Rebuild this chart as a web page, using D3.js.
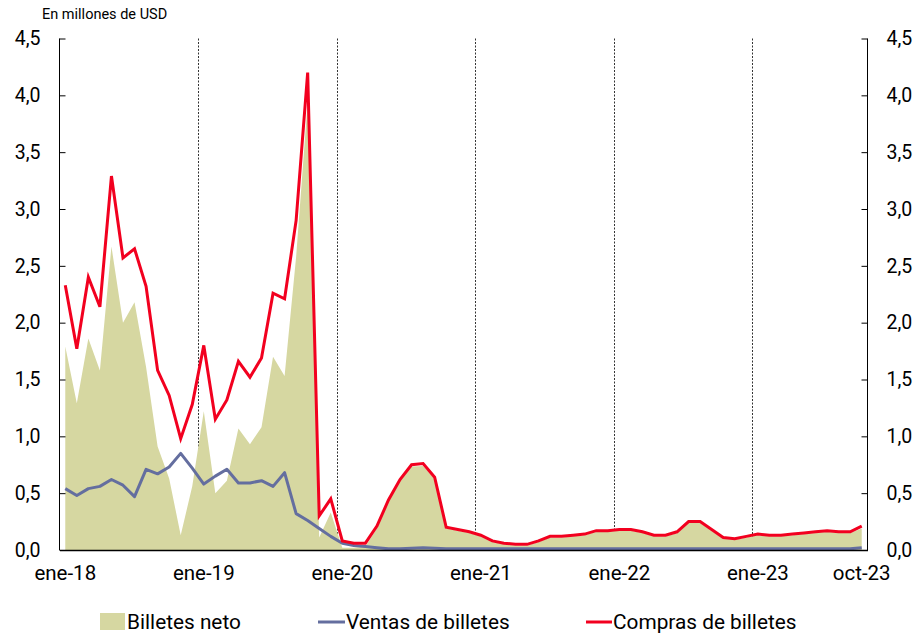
<!DOCTYPE html>
<html><head><meta charset="utf-8">
<script src="https://cdn.jsdelivr.net/npm/d3@7"></script>
<style>
body{margin:0;background:#fff;}
text{font-family:Roboto, "Noto Sans", sans-serif;}
</style></head>
<body><svg id="c" width="920" height="636"></svg>
<script>
const monthsEs = ["ene","feb","mar","abr","may","jun","jul","ago","sep","oct","nov","dic"];
const categories = [];
for (let y = 18; y <= 23; y++) for (let m = 0; m < 12; m++) { if (y === 23 && m > 9) break; categories.push(monthsEs[m] + "-" + y); }

const compras = [2.33,1.77,2.40,2.14,3.29,2.57,2.65,2.32,1.58,1.36,0.98,1.28,
  1.80,1.15,1.32,1.66,1.52,1.69,2.26,2.21,2.90,4.20,0.30,0.45,
  0.08,0.06,0.06,0.21,0.44,0.62,0.75,0.76,0.64,0.20,0.18,0.16,
  0.13,0.08,0.06,0.05,0.05,0.08,0.12,0.12,0.13,0.14,0.17,0.17,
  0.18,0.18,0.16,0.13,0.13,0.16,0.25,0.25,0.18,0.11,0.10,0.12,
  0.14,0.13,0.13,0.14,0.15,0.16,0.17,0.16,0.16,0.21];
const ventas = [0.54,0.48,0.54,0.56,0.62,0.57,0.47,0.71,0.67,0.73,0.85,0.72,
  0.58,0.65,0.71,0.59,0.59,0.61,0.56,0.68,0.32,0.26,0.19,0.12,
  0.06,0.04,0.03,0.02,0.01,0.01,0.015,0.02,0.015,0.012,0.01,0.01,
  0.01,0.01,0.01,0.01,0.01,0.01,0.01,0.01,0.01,0.01,0.01,0.01,
  0.01,0.01,0.01,0.01,0.012,0.012,0.012,0.01,0.01,0.01,0.01,0.01,
  0.01,0.01,0.01,0.01,0.01,0.01,0.01,0.01,0.01,0.02];
const neto = [1.79,1.29,1.86,1.58,2.67,2.00,2.18,1.61,0.91,0.63,0.13,0.56,
  1.22,0.50,0.61,1.07,0.93,1.08,1.70,1.53,2.58,3.94,0.11,0.33,
  0.02,0.02,0.03,0.19,0.43,0.61,0.735,0.74,0.625,0.19,0.17,0.15,
  0.12,0.07,0.05,0.04,0.04,0.07,0.11,0.11,0.12,0.13,0.16,0.16,
  0.17,0.17,0.15,0.12,0.118,0.148,0.238,0.24,0.17,0.10,0.09,0.11,
  0.13,0.12,0.12,0.13,0.14,0.15,0.16,0.15,0.15,0.19];
const yTicks = [0,0.5,1,1.5,2,2.5,3,3.5,4,4.5];
const xLabels = ["ene-18","ene-19","ene-20","ene-21","ene-22","ene-23","oct-23"];
const yearStarts = ["ene-19","ene-20","ene-21","ene-22","ene-23"];
const seriesNames = ["Billetes neto","Ventas de billetes","Compras de billetes"];
const colors = {neto:"#d6d7a1", ventas:"#646e9f", compras:"#f2001f"};

const L = 59.5, R = 867.5, T = 38.5, B = 550;
const svg = d3.select("#c");
const x = d3.scaleBand().domain(categories).range([L, R]).padding(0);
const cx = c => x(c) + x.bandwidth()/2;
const y = d3.scaleLinear().domain([0,4.5]).range([B, T]);

// vertical dotted lines at year starts
svg.append("g").selectAll("line").data(yearStarts).join("line")
  .attr("x1", d => Math.round(x(d))+0.5).attr("x2", d => Math.round(x(d))+0.5)
  .attr("y1", T).attr("y2", B)
  .attr("stroke", "#333").attr("stroke-width", 1).attr("stroke-dasharray", "2,1.5");

// area
const area = d3.area().x((d,i) => cx(categories[i])).y0(B).y1(d => y(d));
svg.append("path").datum(neto).attr("d", area).attr("fill", colors.neto);

const line = d3.line().x((d,i) => cx(categories[i])).y(d => y(d));
svg.append("path").datum(ventas).attr("d", line).attr("fill","none")
  .attr("stroke", colors.ventas).attr("stroke-width", 3).attr("stroke-linejoin","round");
svg.append("path").datum(compras).attr("d", line).attr("fill","none")
  .attr("stroke", colors.compras).attr("stroke-width", 3).attr("stroke-linejoin","miter");

const fmt = d => d3.format(".1f")(d).replace(".", ",");
// left axis
const gl = svg.append("g").attr("transform", `translate(${L},0)`)
  .call(d3.axisLeft(y).tickValues(yTicks).tickFormat(fmt).tickSize(-6).tickPadding(19));
// right axis
const gr = svg.append("g").attr("transform", `translate(${R},0)`)
  .call(d3.axisRight(y).tickValues(yTicks).tickFormat(fmt).tickSize(-6).tickPadding(19));
[gl, gr].forEach(g => {
  g.select(".domain").remove();
  g.selectAll(".tick line").attr("stroke","#000");
  g.selectAll("text").attr("font-size", 19.5).attr("fill","#000").attr("font-family","Roboto");
});
svg.append("line").attr("x1",L).attr("x2",L).attr("y1",T).attr("y2",B).attr("stroke","#000");
svg.append("line").attr("x1",R).attr("x2",R).attr("y1",T).attr("y2",B).attr("stroke","#000");
// bottom axis
const gb = svg.append("g").attr("transform", `translate(0,${B})`)
  .call(d3.axisBottom(x).tickValues(xLabels).tickSize(0).tickPadding(15));
gb.select(".domain").attr("stroke","#000").attr("stroke-width",1.5);
gb.selectAll("text").attr("font-size", 20.5).attr("fill","#000").attr("font-family","Roboto");

// title
svg.append("text").attr("x", 42).attr("y", 18.5).attr("font-size", 14.5).attr("fill","#000").text("En millones de USD");

// legend
const lg = svg.append("g").attr("font-size", 20.8);
lg.append("rect").attr("x",100).attr("y",613).attr("width",25).attr("height",17).attr("fill",colors.neto);
lg.append("text").attr("x",127).attr("y",629).text(seriesNames[0]);
lg.append("line").attr("x1",318).attr("x2",345).attr("y1",622).attr("y2",622).attr("stroke",colors.ventas).attr("stroke-width",3);
lg.append("text").attr("x",346).attr("y",629).text(seriesNames[1]);
lg.append("line").attr("x1",586).attr("x2",612).attr("y1",622).attr("y2",622).attr("stroke",colors.compras).attr("stroke-width",3);
lg.append("text").attr("x",613).attr("y",629).text(seriesNames[2]);
</script></body></html>
